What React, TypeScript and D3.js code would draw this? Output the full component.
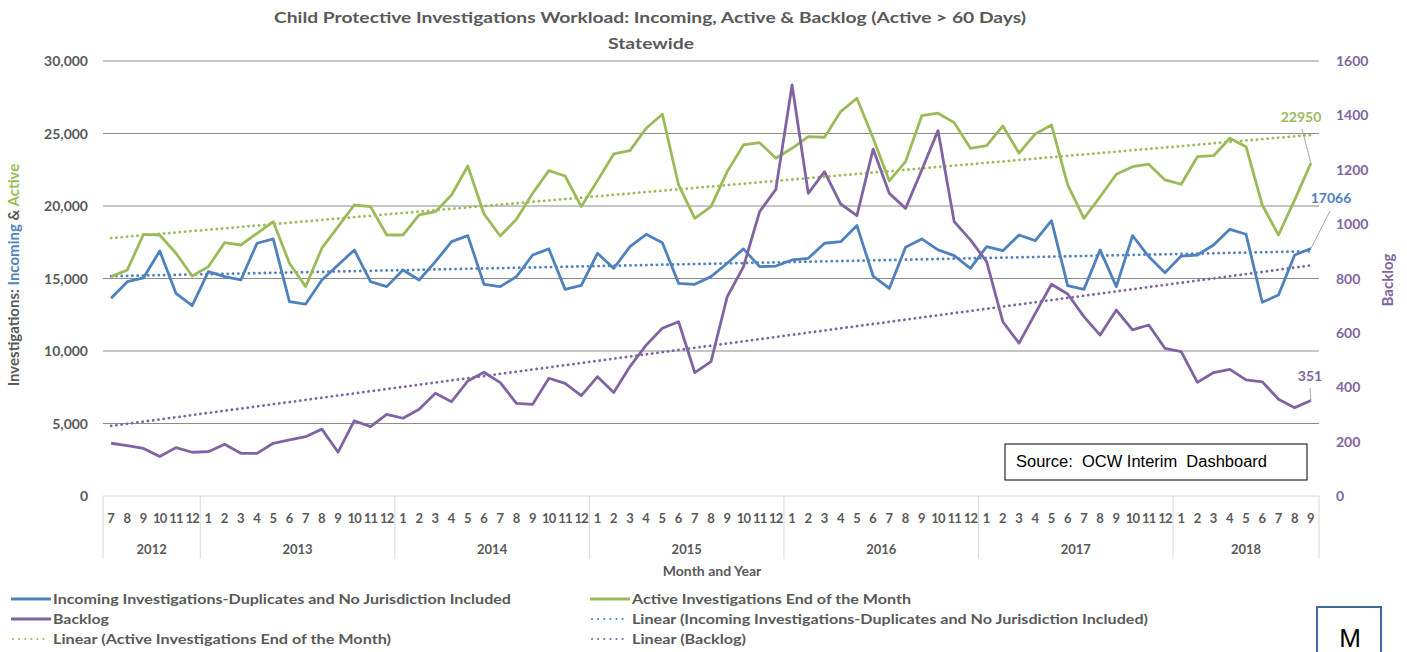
import React from "react";
import * as d3 from "d3";

const years = ["2012", "2013", "2014", "2015", "2016", "2017", "2018"];
const yearMonths = [
  [7, 8, 9, 10, 11, 12],
  [1, 2, 3, 4, 5, 6, 7, 8, 9, 10, 11, 12],
  [1, 2, 3, 4, 5, 6, 7, 8, 9, 10, 11, 12],
  [1, 2, 3, 4, 5, 6, 7, 8, 9, 10, 11, 12],
  [1, 2, 3, 4, 5, 6, 7, 8, 9, 10, 11, 12],
  [1, 2, 3, 4, 5, 6, 7, 8, 9, 10, 11, 12],
  [1, 2, 3, 4, 5, 6, 7, 8, 9],
];

const incoming = [
  13640, 14780, 15050, 16900, 13980, 13130,
  15470, 15130, 14900, 17430, 17730, 13400, 13240, 14900, 15930, 16970, 14780, 14440,
  15590, 14900, 16160, 17540, 17960, 14600, 14440, 15130, 16620, 17040, 14250, 14530,
  16740, 15700, 17200, 18050, 17470, 14670, 14600, 15130, 16050, 17040, 15820, 15860,
  16280, 16390, 17430, 17540, 18650, 15170, 14320, 17150, 17730, 16970, 16580, 15700,
  17200, 16920, 18000, 17610, 18990, 14510, 14250, 16970, 14440, 17960, 16510, 15400,
  16550, 16620, 17310, 18390, 18050, 13360, 13860, 16620, 17066,
];

const active = [
  15130, 15590, 18050, 18000, 16740, 15170,
  15820, 17470, 17310, 18120, 18920, 16050, 14440, 17090, 18580, 20070, 19960, 18000,
  18000, 19380, 19610, 20760, 22760, 19450, 17930, 19090, 20880, 22440, 22070, 19960,
  21750, 23590, 23820, 25360, 26330, 21450, 19150, 19960, 22370, 24210, 24370, 23290,
  23980, 24780, 24740, 26510, 27430, 24670, 21730, 23060, 26230, 26400, 25750, 23980,
  24160, 25520, 23640, 24970, 25590, 21450, 19150, 20640, 22190, 22710, 22880, 21800,
  21500, 23400, 23470, 24670, 24090, 20070, 18000, 20420, 22950,
];

const backlog = [
  194, 185, 175, 145, 178, 161,
  163, 190, 157, 157, 194, 206, 218, 246, 161, 277, 255, 300,
  286, 319, 378, 347, 423, 455, 417, 341, 337, 433, 414, 369,
  439, 381, 476, 555, 617, 641, 454, 494, 733, 843, 1046, 1128,
  1512, 1113, 1193, 1074, 1031, 1276, 1113, 1058, 1199, 1344, 1009, 942,
  862, 641, 562, 672, 779, 743, 660, 592, 684, 611, 629, 543,
  531, 418, 454, 466, 427, 420, 356, 325, 351,
];

const leftTicks = [0, 5000, 10000, 15000, 20000, 25000, 30000];
const rightTicks = [0, 200, 400, 600, 800, 1000, 1200, 1400, 1600];

const legendItems = [
  { label: "Incoming Investigations-Duplicates and No Jurisdiction Included", color: "#4f81bd", dotted: false, col: 0, row: 0, w: 458 },
  { label: "Backlog", color: "#8064a2", dotted: false, col: 0, row: 1, w: 56 },
  { label: "Linear (Active Investigations End of the Month)", color: "#9bbb59", dotted: true, col: 0, row: 2, w: 338 },
  { label: "Active Investigations End of the Month", color: "#9bbb59", dotted: false, col: 1, row: 0, w: 279 },
  { label: "Linear (Incoming Investigations-Duplicates and No Jurisdiction Included)", color: "#4f81bd", dotted: true, col: 1, row: 1, w: 516 },
  { label: "Linear (Backlog)", color: "#8064a2", dotted: true, col: 1, row: 2, w: 114 },
];

const BLUE = "#4f81bd";
const GREEN = "#9bbb59";
const PURPLE = "#8064a2";
const GRAY = "#595959";
const FONT = "Lato, 'Open Sans', sans-serif";

function linreg(vals: number[]) {
  const n = vals.length;
  const xm = d3.mean(vals.map((_, i) => i)) as number;
  const ym = d3.mean(vals) as number;
  let num = 0;
  let den = 0;
  vals.forEach((v, i) => {
    num += (i - xm) * (v - ym);
    den += (i - xm) * (i - xm);
  });
  const b = num / den;
  const a = ym - b * xm;
  return [0, n - 1].map((i) => ({ i, v: a + b * i }));
}

export default function App() {
  const W = 1407;
  const H = 652;
  const left = 103;
  const right = 1319;
  const top = 61;
  const bottom = 496;

  const months: { m: number; y: number }[] = [];
  yearMonths.forEach((ms, yi) => ms.forEach((m) => months.push({ m, y: yi })));
  const idx = months.map((_, i) => i);

  const x = d3.scaleBand<number>().domain(idx).range([left, right]).paddingInner(0).paddingOuter(0);
  const cx = (i: number) => (x(i) as number) + x.bandwidth() / 2;
  const yL = d3.scaleLinear().domain([0, 30000]).range([bottom, top]);
  const yR = d3.scaleLinear().domain([0, 1600]).range([bottom, top]);

  const lineL = d3.line<number>().x((_, i) => cx(i)).y((v) => yL(v));
  const lineR = d3.line<number>().x((_, i) => cx(i)).y((v) => yR(v));
  const trendL = d3.line<{ i: number; v: number }>().x((d) => cx(d.i)).y((d) => yL(d.v));
  const trendR = d3.line<{ i: number; v: number }>().x((d) => cx(d.i)).y((d) => yR(d.v));

  const tIncoming = linreg(incoming);
  const tActive = linreg(active);
  const tBacklog = linreg(backlog);

  let acc = 0;
  const yearSpans = yearMonths.map((ms, yi) => {
    const s = acc;
    acc += ms.length;
    return { year: years[yi], start: s, end: acc - 1 };
  });

  const last = idx.length - 1;
  const dotted = "0.1,5.2";

  return (
    <svg
      width={W}
      height={H}
      style={{ position: "absolute", left: 0, top: 0, background: "#fff" }}
      fontFamily={FONT}
    >
      <rect x={0} y={0} width={W} height={H} fill="#fff" />
      <text x={650} y={23} textAnchor="middle" fontSize={15} fontWeight={700} fill={GRAY} textLength={752} lengthAdjust="spacingAndGlyphs">
        Child Protective Investigations Workload: Incoming, Active &amp; Backlog (Active &gt; 60 Days)
      </text>
      <text x={651} y={49} textAnchor="middle" fontSize={15} fontWeight={700} fill={GRAY} textLength={86} lengthAdjust="spacingAndGlyphs">
        Statewide
      </text>

      {leftTicks.filter((t) => t > 0).map((t) => (
        <line key={t} x1={left} x2={right} y1={yL(t)} y2={yL(t)} stroke="#8c8c8c" strokeWidth={1} />
      ))}
      <line x1={left} x2={right} y1={bottom} y2={bottom} stroke="#d9d9d9" strokeWidth={1} />

      <line x1={left} x2={left} y1={bottom} y2={559} stroke="#d9d9d9" />
      {yearSpans.map((s) => (
        <line key={s.year} x1={(x(s.end) as number) + x.bandwidth()} x2={(x(s.end) as number) + x.bandwidth()} y1={bottom} y2={559} stroke="#d9d9d9" />
      ))}
      {months.map((mo, i) => (
        <text key={i} x={cx(i)} y={523} textAnchor="middle" fontSize={13} fontWeight={700} fill={GRAY} letterSpacing={mo.m >= 10 ? -0.8 : 0}>
          {mo.m}
        </text>
      ))}
      {yearSpans.map((s) => (
        <text key={s.year} x={((x(s.start) as number) + (x(s.end) as number) + x.bandwidth()) / 2} y={554} textAnchor="middle" fontSize={13} fontWeight={700} fill={GRAY}>
          {s.year}
        </text>
      ))}
      <text x={712} y={576} textAnchor="middle" fontSize={14} fontWeight={700} fill={GRAY}>
        Month and Year
      </text>

      {leftTicks.map((t) => (
        <text key={t} x={88} y={yL(t) + 5} textAnchor="end" fontSize={14} fontWeight={700} fill={GRAY}>
          {d3.format(",")(t)}
        </text>
      ))}
      {rightTicks.map((t) => (
        <text key={t} x={1336} y={yR(t) + 5} textAnchor="start" fontSize={14} fontWeight={700} fill={PURPLE}>
          {t}
        </text>
      ))}
      <text transform="translate(19,275) rotate(-90)" textAnchor="middle" fontSize={15} fontWeight={700} fill={GRAY}>
        <tspan>Investigations: </tspan>
        <tspan fill={BLUE}>Incoming</tspan>
        <tspan> &amp; </tspan>
        <tspan fill={GREEN}>Active</tspan>
      </text>
      <text transform="translate(1393,280) rotate(-90)" textAnchor="middle" fontSize={15} fontWeight={700} fill={PURPLE}>
        Backlog
      </text>

      <path d={trendL(tActive) as string} fill="none" stroke={GREEN} strokeWidth={2.8} strokeDasharray={dotted} strokeLinecap="round" />
      <path d={trendL(tIncoming) as string} fill="none" stroke={BLUE} strokeWidth={2.8} strokeDasharray={dotted} strokeLinecap="round" />
      <path d={trendR(tBacklog) as string} fill="none" stroke={PURPLE} strokeWidth={2.8} strokeDasharray={dotted} strokeLinecap="round" />

      <path d={lineL(incoming) as string} fill="none" stroke={BLUE} strokeWidth={2.8} strokeLinejoin="round" />
      <path d={lineL(active) as string} fill="none" stroke={GREEN} strokeWidth={2.8} strokeLinejoin="round" />
      <path d={lineR(backlog) as string} fill="none" stroke={PURPLE} strokeWidth={2.8} strokeLinejoin="round" />

      <line x1={1302} y1={129} x2={cx(last)} y2={yL(active[last])} stroke="#a6a6a6" strokeWidth={1} />
      <text x={1301} y={122} textAnchor="middle" fontSize={14} fontWeight={700} fill={GREEN}>
        {active[last]}
      </text>
      <line x1={1330} y1={211} x2={cx(last)} y2={yL(incoming[last])} stroke="#a6a6a6" strokeWidth={1} />
      <text x={1331} y={203} textAnchor="middle" fontSize={14} fontWeight={700} fill={BLUE}>
        {incoming[last]}
      </text>
      <line x1={1310} y1={388} x2={cx(last)} y2={yR(backlog[last])} stroke="#a6a6a6" strokeWidth={1} />
      <text x={1310} y={381} textAnchor="middle" fontSize={14} fontWeight={700} fill={PURPLE}>
        {backlog[last]}
      </text>

      <rect x={1005} y={444} width={302} height={36} fill="#fff" stroke="#000" strokeWidth={1} />
      <text x={1016} y={467} fontSize={16} fill="#000" fontFamily="'Liberation Sans', Arial, sans-serif" textLength={251} lengthAdjust="spacingAndGlyphs" xmlSpace="preserve">
        Source:  OCW Interim  Dashboard
      </text>

      {legendItems.map((it) => {
        const lx = it.col === 0 ? 11 : 590;
        const ly = 599 + it.row * 20;
        return (
          <g key={it.label}>
            <line
              x1={lx + (it.dotted ? 2 : 0)}
              x2={lx + (it.dotted ? 35 : 40)}
              y1={ly}
              y2={ly}
              stroke={it.color}
              strokeWidth={it.dotted ? 2 : 3}
              strokeDasharray={it.dotted ? "0.1,6" : undefined}
              strokeLinecap={it.dotted ? "round" : "butt"}
            />
            <text x={lx + 42} y={ly + 5} fontSize={14} fontWeight={700} fill={GRAY} textLength={it.w} lengthAdjust="spacingAndGlyphs">
              {it.label}
            </text>
          </g>
        );
      })}

      <rect x={1317} y={607} width={64} height={60} fill="#fff" stroke="#41679b" strokeWidth={2} />
      <text x={1350} y={647} textAnchor="middle" fontSize={26} fill="#000" fontFamily="'Liberation Sans', Arial, sans-serif">
        M
      </text>
    </svg>
  );
}
